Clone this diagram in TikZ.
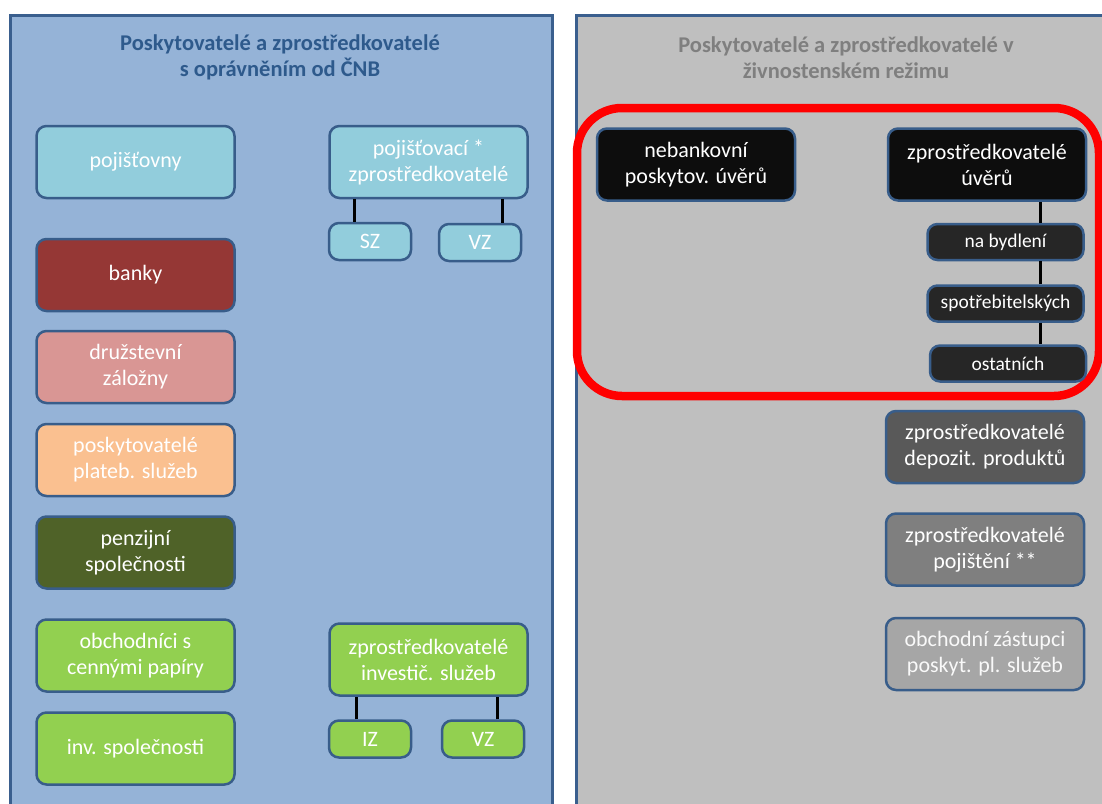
\documentclass[tikz,border=0pt]{standalone}
\usepackage{fontspec}
\setmainfont{Carlito}
\definecolor{panelblue}{HTML}{95B3D7}
\definecolor{panelgray}{HTML}{BFBFBF}
\definecolor{edgeblue}{HTML}{3A5F8E}
\definecolor{boxedge}{HTML}{385D8A}
\definecolor{ltblue}{HTML}{92CDDC}
\definecolor{bankred}{HTML}{953735}
\definecolor{pinkc}{HTML}{D99694}
\definecolor{orangec}{HTML}{FAC090}
\definecolor{olivec}{HTML}{4F6228}
\definecolor{greenc}{HTML}{92D050}
\definecolor{blackc}{HTML}{0D0D0D}
\definecolor{darkc}{HTML}{262626}
\definecolor{gray1}{HTML}{595959}
\definecolor{gray2}{HTML}{7F7F7F}
\definecolor{gray3}{HTML}{A6A6A6}
\definecolor{titleblue}{HTML}{2E5A8C}
\definecolor{titlegray}{HTML}{7F7F7F}
\begin{document}
\begin{tikzpicture}[x=1pt,y=-1pt,
  panel/.style={draw=edgeblue,line width=3pt},
  box/.style={draw=boxedge,line width=2.5pt,rounded corners=10pt,text=white,
    inner sep=0pt,align=center,font=\fontsize{22}{26}\selectfont},
  bigbox/.style={box,minimum width=198pt,minimum height=72pt},
  smallbox/.style={box,minimum width=82pt,minimum height=37pt},
  subbox/.style={box,fill=darkc,minimum width=156pt,minimum height=36pt,
    font=\fontsize{19.5}{23}\selectfont},
  conn/.style={draw=black,line width=3pt},
  ttl/.style={align=center,font=\bfseries\fontsize{22.5}{25.5}\selectfont}]
\useasboundingbox (0,0) rectangle (1102,803);
\fill[white] (0,0) rectangle (1102,803);
% panels
\filldraw[panel,fill=panelblue] (10,15) rectangle (552,830);
\filldraw[panel,fill=panelgray] (576,15) rectangle (1130,830);
% titles
\node[ttl,text=titleblue] (tl) at (280,57.5) {Poskytovatelé a zprostředkovatelé\\s oprávněním od ČNB};
\node[ttl,text=titlegray] (tr) at (846,57.5) {Poskytovatelé a zprostředkovatelé v\\živnostenském režimu};
% red frame
\draw[red,line width=8.5pt,rounded corners=45pt] (577,108) rectangle (1099,396);
% left column
\node[bigbox,fill=ltblue] (pojistovny) at (135.5,162) {pojišťovny};
\node[bigbox,fill=bankred] (banky) at (135.5,275) {banky};
\node[bigbox,fill=pinkc] (druz) at (135.5,367) {družstevní\\záložny};
\node[bigbox,fill=orangec] (posk) at (135.5,460) {poskytovatelé\\plateb. služeb};
\node[bigbox,fill=olivec] (penz) at (135.5,552.5) {penzijní\\společnosti};
\node[bigbox,fill=greenc] (obch) at (135.5,655.5) {obchodníci s\\cennými papíry};
\node[bigbox,fill=greenc] (inv) at (135.5,748.5) {inv. společnosti};
% left right-column
\node[bigbox,fill=ltblue] (pojzpr) at (428.5,162) {pojišťovací *\\zprostředkovatelé};
\node[smallbox,fill=ltblue] (sz) at (370,241.5) {SZ};
\node[smallbox,fill=ltblue] (vz) at (480,242.5) {VZ};
\node[bigbox,fill=greenc] (invzpr) at (428.5,659.5) {zprostředkovatelé\\investič. služeb};
\node[smallbox,fill=greenc] (iz) at (370,739) {IZ};
\node[smallbox,fill=greenc] (vz2) at (483,739) {VZ};
\draw[conn] ([xshift=-16pt]sz.north) -- ([xshift=-16pt]sz.north |- pojzpr.south);
\draw[conn] ([xshift=22pt]vz.north) -- ([xshift=22pt]vz.north |- pojzpr.south);
\draw[conn] ([xshift=-14pt]iz.north) -- ([xshift=-14pt]iz.north |- invzpr.south);
\draw[conn] ([xshift=14pt]vz2.north) -- ([xshift=14pt]vz2.north |- invzpr.south);
% right panel
\node[bigbox,fill=blackc] (neb) at (696,164.5) {nebankovní\\poskytov. úvěrů};
\node[bigbox,fill=blackc] (zpru) at (987,164.5) {zprostředkovatelé\\úvěrů};
\node[subbox] (byd) at (1005.5,242) {na bydlení};
\node[subbox] (spot) at (1005.5,303.5) {spotřebitelských};
\node[subbox] (ost) at (1008,363.5) {ostatních};
\draw[conn] ([xshift=34.5pt]byd.north) -- ([xshift=34.5pt]byd.north |- zpru.south);
\draw[conn] ([xshift=34.5pt]spot.north) -- ([xshift=34.5pt]spot.north |- byd.south);
\draw[conn] ([xshift=34.5pt]spot.south) -- ([xshift=34.5pt]spot.south |- ost.north);
\node[bigbox,fill=gray1] (dep) at (985,447) {zprostředkovatelé\\depozit. produktů};
\node[bigbox,fill=gray2] (pojist) at (985,549.5) {zprostředkovatelé\\pojištění **};
\node[bigbox,fill=gray3,text=white!95!gray] (obz) at (985,654) {obchodní zástupci\\poskyt. pl. služeb};
\end{tikzpicture}
\end{document}
